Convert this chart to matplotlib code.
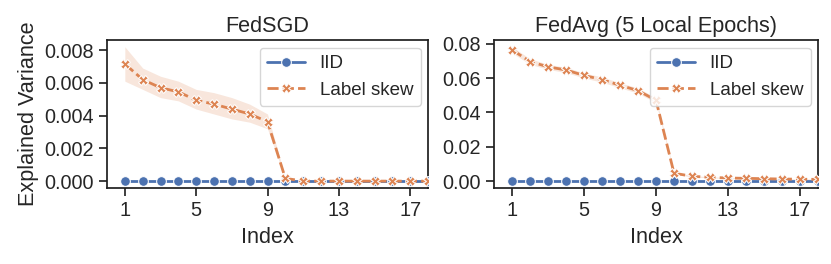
import numpy as np
import matplotlib
matplotlib.use("Agg")
import matplotlib.pyplot as plt
import seaborn as sns

sns.set_theme(context="notebook", style="ticks", font_scale=1.3)
plt.rcParams['font.family'] = ['Liberation Sans', 'DejaVu Sans']

index = list(range(1, 21))

sgd_iid = [0.0] * 20
sgd_skew = [0.00715, 0.0062, 0.0057, 0.00545, 0.00494, 0.0047, 0.0044, 0.0041, 0.00363, 0.00018,
            0.00001, 0.00001, 0.00001, 0.00001, 0.00001, 0.00001, 0.00001, 0.00001, 0.00001, 0.00001]
sgd_skew_hi = [0.0082, 0.0069, 0.0064, 0.0061, 0.0056, 0.0054, 0.0051, 0.0047, 0.0041, 0.00022,
               0.00002, 0.00002, 0.00002, 0.00002, 0.00002, 0.00002, 0.00002, 0.00002, 0.00002, 0.00002]
sgd_skew_lo = [0.0061, 0.0056, 0.0051, 0.0049, 0.0044, 0.0041, 0.0038, 0.0036, 0.0032, 0.00014,
               0.0, 0.0, 0.0, 0.0, 0.0, 0.0, 0.0, 0.0, 0.0, 0.0]

avg_iid = [0.0] * 20
avg_skew = [0.0764, 0.0696, 0.0665, 0.0647, 0.0615, 0.0591, 0.0558, 0.0527, 0.0471, 0.0047,
            0.0029, 0.0023, 0.0019, 0.0017, 0.0015, 0.0013, 0.0012, 0.0011, 0.0010, 0.0009]
avg_skew_hi = [0.0782, 0.0712, 0.0680, 0.0662, 0.0630, 0.0606, 0.0573, 0.0542, 0.0486, 0.0053,
               0.0033, 0.0026, 0.0022, 0.0019, 0.0017, 0.0015, 0.0014, 0.0013, 0.0012, 0.0011]
avg_skew_lo = [0.0746, 0.0680, 0.0650, 0.0632, 0.0600, 0.0576, 0.0543, 0.0512, 0.0456, 0.0041,
               0.0025, 0.0020, 0.0016, 0.0015, 0.0013, 0.0011, 0.0010, 0.0009, 0.0008, 0.0007]

titles = ["FedSGD", "FedAvg (5 Local Epochs)"]
series_labels = ["IID", "Label skew"]
xticks = [1, 5, 9, 13, 17]

pal = sns.color_palette("deep")
blue, orange = pal[0], pal[1]

fig = plt.figure(figsize=(8.31, 2.64), dpi=100)
ax1 = fig.add_axes([107/831, 76/264, 321/831, 148/264])
ax2 = fig.add_axes([494/831, 76/264, 324/831, 148/264])

panels = [
    (ax1, sgd_iid, sgd_skew, sgd_skew_lo, sgd_skew_hi),
    (ax2, avg_iid, avg_skew, avg_skew_lo, avg_skew_hi),
]
for i, (ax, iid, skew, lo, hi) in enumerate(panels):
    ax.plot(index, iid, color=blue, lw=2, marker='o', ms=7, mec='white', mew=0.75,
            label=series_labels[0], zorder=3)
    ax.fill_between(index, lo, hi, color=orange, alpha=0.2, lw=0, zorder=2)
    ax.plot(index, skew, color=orange, lw=2, dashes=(4, 1.5), marker='X', ms=7, mec='white',
            mew=0.75, label=series_labels[1], zorder=4)
    ax.set_title(titles[i])
    ax.set_xlabel("Index", labelpad=5)
    ax.set_xticks(xticks)
    ax.set_xlim(0, 18)
    ax.legend(loc='upper right', fontsize=13.5, borderaxespad=0.4)
    for s in ax.spines.values():
        s.set_visible(True)
        s.set_color('0.12')

ax1.set_ylabel("Explained Variance")
ax1.set_yticks([0.0, 0.002, 0.004, 0.006, 0.008])
ax1.set_yticklabels(["0.000", "0.002", "0.004", "0.006", "0.008"])
ax2.set_yticks([0.0, 0.02, 0.04, 0.06, 0.08])
ax2.set_yticklabels(["0.00", "0.02", "0.04", "0.06", "0.08"])

fig.savefig("out.png", dpi=100)
